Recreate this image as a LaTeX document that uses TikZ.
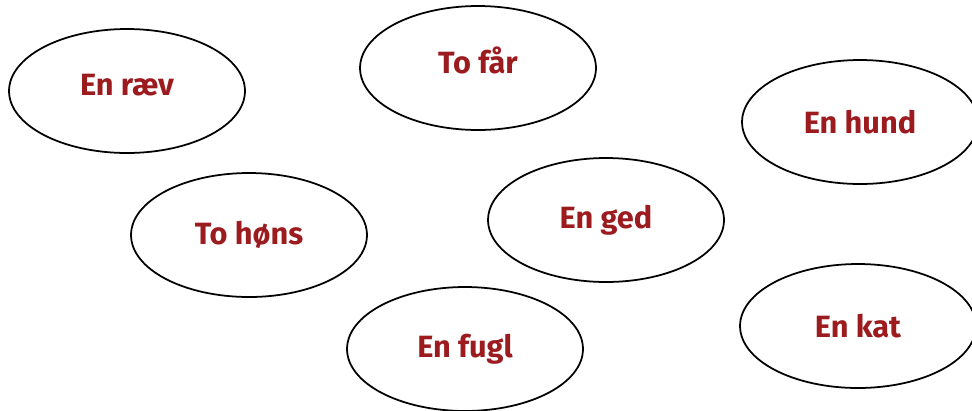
\documentclass[tikz,border=0pt]{standalone}
\usepackage{fontspec}
\setmainfont{Fira Sans}
\usetikzlibrary{
  shapes.geometric,
  positioning
}
\definecolor{dyrerod}{HTML}{9B1B1F}

\begin{document}
\begin{tikzpicture}[x = 0.02cm, y = -0.02cm,
    dyr/.style = {ellipse, draw, line width = 1pt, minimum width = 4.72cm,
      minimum height = 2.48cm, inner sep = 0pt, text = dyrerod,
      font = \fontsize{17.5}{20}\selectfont\bfseries},
    oppe/.style = {text depth = #1}]
    \clip (0,0) rectangle (972,410);
    \useasboundingbox (0,0) rectangle (972,410);

    \node[dyr, oppe = 0.24cm] (raev) at (127,91) {En ræv};
    \node[dyr, oppe = 0.32cm] (faar) at (478,68) {To får};
    \node[dyr] (hund) at (860,122) {En hund};
    \node[dyr] (hoens) at (249,235) {To høns};
    \node[dyr] (ged) at (606,220) {En ged};
    \node[dyr] (fugl) at (465,349) {En fugl};
    \node[dyr] (kat) at (858,326) {En kat};
  \end{tikzpicture}
\end{document}
